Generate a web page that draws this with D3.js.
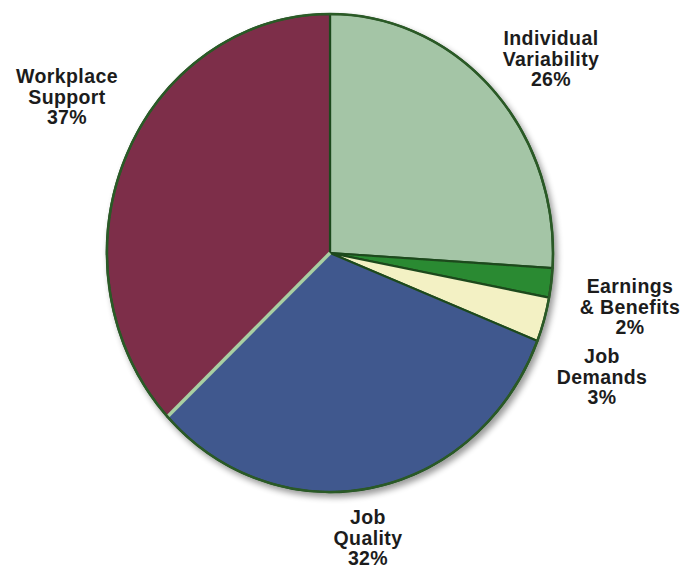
<!DOCTYPE html>
<html><head><meta charset="utf-8">
<script src="https://cdn.jsdelivr.net/npm/d3@7"></script>
<style>body{margin:0;background:#fff}svg{display:block}</style>
</head><body>
<svg id="chart" width="689" height="569"></svg>
<script>
const categories = ["Individual Variability", "Earnings & Benefits", "Job Demands", "Job Quality", "Workplace Support"];
const values = [26, 2, 3, 32, 37];
const labelLines = [["Individual", "Variability", "26%"], ["Earnings", "& Benefits", "2%"], ["Job", "Demands", "3%"], ["Job", "Quality", "32%"], ["Workplace", "Support", "37%"]];
const colors = ["#a4c5a6", "#2a8a31", "#f3f1c4", "#41598e", "#7d2f49"];

// layout
const W = 689, H = 569;
const cx = 330, cy = 253, rx = 223, ry = 239;
const labelPos = [[551, 45], [630, 293], [602, 363], [368, 524], [67, 83]];
const lineGap = 20.5;

const svg = d3.select("#chart");
const defs = svg.append("defs");
const f = defs.append("filter").attr("id", "sh").attr("x", "-10%").attr("y", "-10%").attr("width", "130%").attr("height", "130%");
f.append("feGaussianBlur").attr("in", "SourceAlpha").attr("stdDeviation", 3).attr("result", "b");
f.append("feOffset").attr("in", "b").attr("dx", 3).attr("dy", 4).attr("result", "o");
f.append("feComponentTransfer").attr("in", "o").attr("result", "o2").append("feFuncA").attr("type", "linear").attr("slope", 0.4);
const m = f.append("feMerge");
m.append("feMergeNode").attr("in", "o2");
m.append("feMergeNode").attr("in", "SourceGraphic");

const pie = d3.pie().sort(null).value(d => d)(values);
const arc = d3.arc().innerRadius(0).outerRadius(1);

const g = svg.append("g").attr("filter", "url(#sh)")
  .append("g").attr("transform", `translate(${cx},${cy}) scale(${rx},${ry})`);

// slices with a darker inner rim (bevel-like)
g.selectAll("path.slice").data(pie).join("path")
  .attr("class", "slice")
  .attr("d", arc)
  .attr("fill", (d, i) => colors[i])
  .attr("stroke", "#1f4a1e")
  .attr("stroke-width", 2.2)
  .attr("stroke-linejoin", "round")
  .attr("vector-effect", "non-scaling-stroke");

// light separator between Job Quality and Workplace Support
const sep = pie[4];
g.append("path")
  .attr("d", d3.line()([[0, 0], [Math.sin(sep.startAngle), -Math.cos(sep.startAngle)]]))
  .attr("stroke", "#a9cfa3").attr("stroke-width", 3.5)
  .attr("vector-effect", "non-scaling-stroke");

// outline
g.append("ellipse").attr("rx", 1).attr("ry", 1).attr("fill", "none")
  .attr("stroke", "#2c5a28").attr("stroke-width", 2.5).attr("vector-effect", "non-scaling-stroke");

const lab = svg.append("g").attr("font-family", "Liberation Sans, Arial, sans-serif")
  .attr("font-weight", "bold").attr("font-size", 19.5).attr("letter-spacing", 0.4)
  .attr("fill", "#1c1c1c").attr("text-anchor", "middle");
labelLines.forEach((lines, i) => {
  const t = lab.append("text").attr("x", labelPos[i][0]).attr("y", labelPos[i][1]);
  lines.forEach((s, j) => t.append("tspan").attr("x", labelPos[i][0]).attr("dy", j === 0 ? 0 : lineGap).text(s));
});
</script>
</body></html>
